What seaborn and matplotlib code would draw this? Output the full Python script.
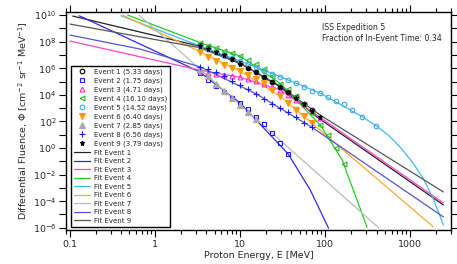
import matplotlib
matplotlib.use("Agg")
import matplotlib.pyplot as plt
from matplotlib.ticker import LogLocator, NullLocator, NullFormatter
import pandas as pd
import seaborn as sns

# ---------------- data ----------------
ev_labels = ["Event 1 (5.33 days)", "Event 2 (1.75 days)", "Event 3 (4.71 days)",
             "Event 4 (16.10 days)", "Event 5 (14.52 days)", "Event 6 (6.40 days)",
             "Event 7 (2.85 days)", "Event 8 (6.56 days)", "Event 9 (3.79 days)"]

ev1_E = [3.38, 4.20, 5.22, 6.48, 8.05, 10.0, 12.4, 15.4, 19.2, 23.8, 29.6, 36.7, 45.6, 56.6, 70.3]
ev1_F = [5.55e7, 3.13e7, 1.74e7, 9.8e6, 4.83e6, 2.30e6, 1.07e6, 5.0e5, 2.38e5, 9.7e4, 3.93e4, 1.60e4, 6.3e3, 2.10e3, 695]

ev2_E = [3.38, 4.20, 5.22, 6.48, 8.05, 10.0, 12.4, 15.4, 19.2, 23.8, 29.6, 36.7]
ev2_F = [4.14e5, 1.41e5, 4.59e4, 1.63e4, 6.27e3, 2.42e3, 855, 233, 58.5, 12.3, 2.18, 0.354]

ev3_E = [3.38, 4.20, 5.22, 6.48, 8.05, 10.0, 12.4, 15.4, 19.2, 23.8, 29.6, 36.7, 45.6, 56.6, 70.3, 87.4]
ev3_F = [6.15e5, 4.75e5, 3.66e5, 3.08e5, 2.59e5, 2.07e5, 1.54e5, 1.09e5, 7.08e4, 4.21e4, 2.30e4, 1.05e4, 4.44e3, 1.87e3, 605, 196]

ev4_E = [3.38, 4.20, 5.22, 6.48, 8.05, 10.0, 12.4, 15.4, 19.2, 23.8, 29.6, 36.7, 45.6, 56.6, 70.3, 87.4, 108.4, 134.6, 167.3]
ev4_F = [7.45e7, 4.67e7, 3.30e7, 2.14e7, 1.39e7, 8.26e6, 4.44e6, 2.25e6, 9.33e5, 2.69e5, 7.08e4, 2.64e4, 8.13e3, 2.03e3, 429, 53.6, 9.49, 0.916, 0.0627]

ev5_E = [3.38, 4.20, 5.22, 6.48, 8.05, 10.0, 12.4, 15.4, 19.2, 23.8, 29.6, 36.7, 45.6, 56.6, 70.3, 87.4, 108.4, 134.6, 167.3, 208, 272, 398]
ev5_F = [4.67e7, 2.78e7, 1.65e7, 9.82e6, 5.85e6, 3.48e6, 2.07e6, 1.23e6, 6.71e5, 3.79e5, 2.38e5, 1.34e5, 7.71e4, 4.06e4, 2.10e4, 1.32e4, 7.45e3, 3.42e3, 1.87e3, 661, 225, 45.1]

ev6_E = [3.38, 4.20, 5.22, 6.48, 8.05, 10.0, 12.4, 15.4, 19.2, 23.8, 29.6, 36.7, 45.6, 56.6, 70.3]
ev6_F = [1.74e7, 6.95e6, 3.30e6, 1.87e6, 1.11e6, 6.15e5, 3.08e5, 1.60e5, 7.19e4, 2.30e4, 7.71e3, 2.30e3, 719, 255, 69.5]

ev7_E = [3.38, 4.20, 5.22, 6.48, 8.05, 10.0, 12.4, 15.4]
ev7_F = [8.41e5, 2.46e5, 7.08e4, 2.07e4, 6.05e3, 1.77e3, 518, 151]

ev8_E = [3.38, 4.20, 5.22, 6.48, 8.05, 10.0, 12.4, 15.4, 19.2, 23.8, 29.6, 36.7, 45.6, 56.6, 70.3]
ev8_F = [1.27e6, 8.26e5, 4.92e5, 2.59e5, 1.19e5, 5.85e4, 2.92e4, 1.19e4, 5.0e3, 2.22e3, 1.07e3, 509, 214, 82.6, 34.8]

ev9_E = [3.38, 4.20, 5.22, 6.48, 8.05, 10.0, 12.4, 15.4, 19.2, 23.8, 29.6, 36.7, 45.6, 56.6, 70.3, 87.4]
ev9_F = [5.0e7, 2.95e7, 1.66e7, 9.1e6, 4.68e6, 2.19e6, 1.0e6, 4.79e5, 2.24e5, 9.3e4, 3.8e4, 1.51e4, 5.75e3, 1.91e3, 631, 224]

# fitted spectra
fit1_E = [0.108, 3.29, 10.0, 29.6, 50.8, 79.9, 2443]
fit1_F = [8.4e9, 4.67e7, 2.46e6, 3.86e4, 2.42e3, 214, 5.18e-5]
fit2_E = [0.1286, 0.666, 3.32, 10.0, 36.7, 66.6, 109.3]
fit2_F = [8.86e9, 6.6e7, 5.46e5, 2.42e3, 0.354, 6.95e-4, 9.2e-7]
fit3_E = [0.1, 3.29, 10.0, 29.6, 87.4, 114.5, 2443]
fit3_F = [1.11e8, 7.33e5, 2.07e5, 2.3e4, 196, 58.5, 7.3e-5]
fit4_E = [0.477, 3.57, 10.0, 29.6, 87.4, 158.5, 180, 236, 309.6]
fit4_F = [1e10, 7.45e7, 8.26e6, 7.08e4, 53.6, 0.125, 0.0125, 1.23e-4, 1.09e-6]
fit5_E = [0.398, 3.38, 17.2, 87.4, 272, 398, 560, 763, 1050, 1422, 1865, 2443]
fit5_F = [8.86e9, 4.67e7, 9.49e5, 1.32e4, 225, 45.1, 8.5, 1.1, 0.09, 5.0e-3, 1.4e-4, 1.63e-6]
fit6_E = [0.417, 3.38, 10.0, 29.6, 70.3, 1865]
fit6_F = [1e10, 1.74e7, 6.15e5, 7.71e3, 69.5, 1.15e-6]
fit7_E = [0.648, 420]
fit7_F = [1e10, 1.05e-6]
fit8_E = [0.1, 0.666, 3.38, 15.4, 70.3, 2443]
fit8_F = [3.13e8, 2.78e7, 1.27e6, 1.19e4, 34.8, 6.5e-6]
fit9_E = [0.1, 3.29, 10.0, 29.6, 50.8, 94.7, 2443]
fit9_F = [2.1e9, 3.6e7, 2.25e6, 4.59e4, 3.42e3, 214, 4.92e-4]

# ---------------- styling ----------------
sns.set_style("ticks")
plt.rcParams["font.family"] = ["DejaVu Sans"]
plt.rcParams["mathtext.default"] = "regular"

fig = plt.figure(figsize=(4.57, 2.64), dpi=100)
ax = fig.add_axes([66 / 457, 1 - 230 / 264, (451 - 66) / 457, (230 - 12) / 264])

events = [
    (ev1_E, ev1_F, "o", "black", "none", 3.3),
    (ev2_E, ev2_F, "s", "#1a1aff", "none", 3.3),
    (ev3_E, ev3_F, "^", "#ff22dd", "none", 3.5),
    (ev4_E, ev4_F, "<", "#22bb22", "none", 3.5),
    (ev5_E, ev5_F, "o", "#33aaee", "none", 3.3),
    (ev6_E, ev6_F, "v", "#ff9900", "#ff9900", 3.7),
    (ev7_E, ev7_F, "^", "#aaaaaa", "#aaaaaa", 3.7),
    (ev8_E, ev8_F, "+", "#1a1aff", "#1a1aff", 3.8),
    (ev9_E, ev9_F, "*", "black", "black", 3.6),
]
for (E, F, m, ec, fc, ms), lab in zip(events, ev_labels):
    df = pd.DataFrame({"E": E, "F": F})
    sns.lineplot(data=df, x="E", y="F", ax=ax, estimator=None, sort=False,
                 linestyle="", marker=m, markersize=ms, markeredgecolor=ec,
                 markerfacecolor=fc, markeredgewidth=0.8, color=ec,
                 label=lab, zorder=4)

fits = [
    (fit1_E, fit1_F, "#222222"), (fit2_E, fit2_F, "#2b2bdd"),
    (fit3_E, fit3_F, "#ff44cc"), (fit4_E, fit4_F, "#22cc22"),
    (fit5_E, fit5_F, "#44bbee"), (fit6_E, fit6_F, "#ffaa33"),
    (fit7_E, fit7_F, "#bbbbbb"), (fit8_E, fit8_F, "#5555cc"),
    (fit9_E, fit9_F, "#555555"),
]
for i, (E, F, c) in enumerate(fits, start=1):
    df = pd.DataFrame({"E": E, "F": F})
    sns.lineplot(data=df, x="E", y="F", ax=ax, estimator=None, sort=False,
                 color=c, linewidth=0.9, label=f"Fit Event {i}", zorder=3)

ax.set_xscale("log")
ax.set_yscale("log")
ax.set_xlim(0.09, 3000)
ax.set_ylim(10 ** -6.17, 10 ** 10.23)

yt = [10.0 ** k for k in range(-6, 11)]
ax.set_yticks(yt, [f"$10^{{{k}}}$" if k % 2 == 0 else "" for k in range(-6, 11)])
ax.yaxis.set_minor_locator(NullLocator())
ax.set_xticks([0.1, 1, 10, 100, 1000], ["0.1", "1", "10", "100", "1000"])
ax.xaxis.set_minor_locator(LogLocator(base=10, subs=[2, 3, 4, 5, 6, 7, 8, 9], numticks=20))
ax.xaxis.set_minor_formatter(NullFormatter())
ax.tick_params(which="both", direction="out", top=True, right=True,
               labelsize=6.8, width=0.8, color="black", pad=2)
ax.tick_params(which="major", length=5)
ax.tick_params(which="minor", length=3)
for s in ax.spines.values():
    s.set_linewidth(1.0)
    s.set_color("black")

ax.set_xlabel("Proton Energy, E [MeV]", fontsize=6.8, labelpad=2)
ax.set_ylabel("Differential Fluence, Φ [cm$^{-2}$ sr$^{-1}$ MeV$^{-1}$]", fontsize=6.8, labelpad=2)

ax.text(0.665, 0.95, "ISS Expedition 5\nFraction of In-Event Time: 0.34",
        transform=ax.transAxes, ha="left", va="top", fontsize=5.6, linespacing=1.35)

leg = ax.legend(loc="lower left", bbox_to_anchor=(0.005, 0.0), fontsize=5.0,
                frameon=True, fancybox=False, edgecolor="black", framealpha=1,
                handlelength=2.3, handletextpad=0.6, labelspacing=0.36,
                borderpad=0.4, numpoints=1)
leg.get_frame().set_linewidth(1.0)

fig.savefig("out.png", dpi=100)
